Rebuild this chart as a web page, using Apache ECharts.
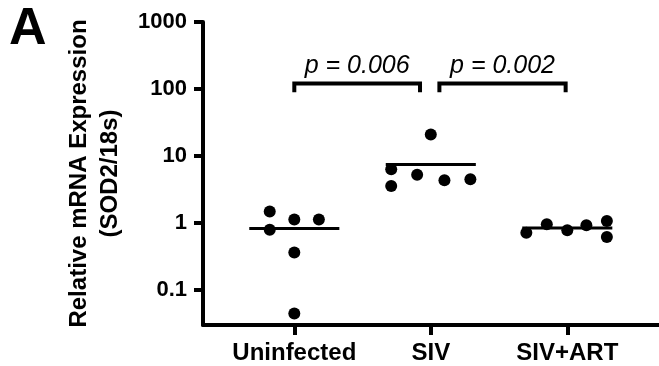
<!DOCTYPE html>
<html>
<head>
<meta charset="utf-8">
<script src="https://cdn.jsdelivr.net/npm/echarts@6/dist/echarts.min.js"></script>
<style>
  html, body { margin: 0; padding: 0; background: #fff; }
  #chart { width: 659px; height: 366px; }
</style>
</head>
<body>
<div id="chart"></div>
<script>
  // groups on the x axis
  var categories = ['Uninfected', 'SIV', 'SIV+ART'];

  // relative mRNA expression per animal (SOD2/18s)
  var uninfectedValues = [1.50, 1.14, 1.14, 0.80, 0.365, 0.045];
  var sivValues = [21.1, 6.36, 5.30, 4.36, 4.51, 3.58];
  var sivArtValues = [0.724, 0.963, 0.784, 0.931, 1.079, 0.623];

  // horizontal scatter of the dots inside each group
  var uninfectedJitter = [-0.18, 0, 0.18, -0.18, 0, 0];
  var sivJitter = [0, -0.29, -0.10, 0.10, 0.29, -0.29];
  var sivArtJitter = [-0.30, -0.15, 0, 0.14, 0.29, 0.29];

  // y axis tick labels (log scale)
  var yTicks = [0.1, 1, 10, 100, 1000];
  var yMin = 0.0304;

  // significance brackets: group pairs and p values
  var bracketPairs = [[0, 1], [1, 2]];
  var pLabels = ['p = 0.006', 'p = 0.002'];
  var bracketTop = 121.6;
  var bracketLeg = 90;

  var font = '"Liberation Sans", Arial, Helvetica, sans-serif';
  var groups = [uninfectedValues, sivValues, sivArtValues];
  var jitters = [uninfectedJitter, sivJitter, sivArtJitter];

  function mean(arr) {
    var s = 0;
    arr.forEach(function (v) { s += v; });
    return s / arr.length;
  }

  var series = [];

  groups.forEach(function (vals, g) {
    series.push({
      type: 'scatter',
      xAxisIndex: 0, yAxisIndex: 0,
      symbol: 'circle',
      symbolSize: 12,
      itemStyle: { color: '#000', opacity: 1 },
      data: vals.map(function (v, i) { return [g + 1 + jitters[g][i], v]; }),
      z: 3
    });
    var m = mean(vals);
    series.push({
      type: 'line',
      xAxisIndex: 0, yAxisIndex: 0,
      symbol: 'none',
      lineStyle: { color: '#000', width: 3 },
      data: [[g + 1 - 0.33, m], [g + 1 + 0.33, m]],
      z: 2
    });
  });

  bracketPairs.forEach(function (pair, k) {
    var x0 = pair[0] + 1 + (k === 0 ? 0 : 0.063);
    var x1 = pair[1] + 1 - (k === 0 ? 0.079 : 0.012);
    series.push({
      type: 'line',
      xAxisIndex: 0, yAxisIndex: 0,
      symbol: 'none',
      lineStyle: { color: '#000', width: 4, cap: 'butt', join: 'miter' },
      data: [[x0, bracketLeg], [x0, bracketTop], [x1, bracketTop], [x1, bracketLeg]]
    });
    series.push({
      type: 'scatter',
      xAxisIndex: 0, yAxisIndex: 0,
      symbolSize: 0,
      itemStyle: { opacity: 1 },
      data: [[(x0 + x1) / 2, bracketTop]],
      label: {
        show: true,
        position: 'top',
        distance: 5,
        formatter: pLabels[k],
        color: '#000',
        opacity: 1,
        fontFamily: font,
        fontStyle: 'italic',
        fontSize: 25
      }
    });
  });

  var chart = echarts.init(document.getElementById('chart'), null, { renderer: 'canvas' });
  chart.setOption({
    animation: false,
    backgroundColor: '#fff',
    graphic: [{
      type: 'text',
      left: 9,
      top: 4,
      style: { text: 'A', font: 'bold 52px ' + font, fill: '#000' }
    }],
    grid: [
      { left: 203, right: 0, top: 22, bottom: 41 },
      { left: 203, right: 0, top: 22, height: 268 }
    ],
    xAxis: [{
      type: 'value',
      gridIndex: 0,
      min: 0.331,
      max: 3.672,
      splitLine: { show: false },
      axisLine: { show: true, lineStyle: { color: '#000', width: 4 } },
      axisTick: { show: true, length: 10, customValues: [1, 2, 3], lineStyle: { color: '#000', width: 4 } },
      axisLabel: {
        customValues: [1, 2, 3],
        margin: 16,
        color: '#000',
        fontFamily: font,
        fontWeight: 'bold',
        fontSize: 24,
        formatter: function (v) { return categories[Math.round(v) - 1] || ''; }
      }
    }, {
      type: 'value',
      gridIndex: 1,
      show: false,
      min: 0, max: 1
    }],
    yAxis: [{
      type: 'log',
      gridIndex: 0,
      logBase: 10,
      min: yMin,
      max: yTicks[yTicks.length - 1],
      splitLine: { show: false },
      axisLine: { show: true, lineStyle: { color: '#000', width: 4 } },
      axisTick: { show: false },
      axisLabel: { show: false },
      name: 'Relative mRNA Expression\n(SOD2/18s)',
      nameLocation: 'middle',
      nameRotate: 90,
      nameGap: 77,
      nameTextStyle: {
        color: '#000',
        fontFamily: font,
        fontWeight: 'bold',
        fontSize: 24,
        lineHeight: 31
      }
    }, {
      type: 'log',
      gridIndex: 1,
      logBase: 10,
      min: yTicks[0],
      max: yTicks[yTicks.length - 1],
      splitLine: { show: false },
      axisLine: { show: false },
      axisTick: { show: true, length: 9, lineStyle: { color: '#000', width: 4 } },
      axisLabel: {
        margin: 16,
        color: '#000',
        fontFamily: font,
        fontWeight: 'bold',
        fontSize: 22,
        formatter: function (v) { return String(v); }
      }
    }],
    series: series
  });
</script>
</body>
</html>
